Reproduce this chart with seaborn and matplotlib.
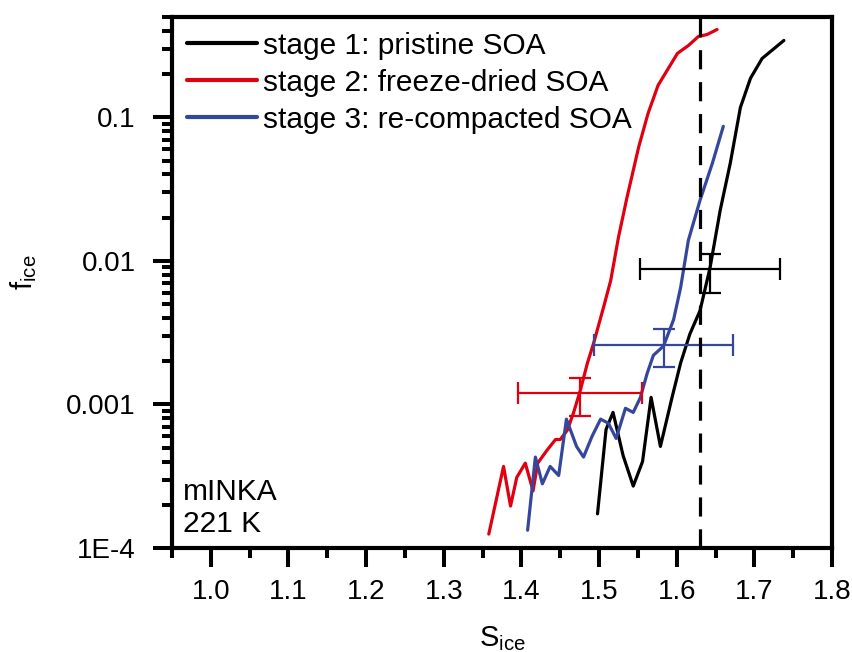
import numpy as np
import pandas as pd
import matplotlib
matplotlib.use("Agg")
import matplotlib.pyplot as plt
import matplotlib.ticker as mticker
import seaborn as sns

# ── DATA ──────────────────────────────────────────────────────
black_s = [1.498, 1.509, 1.518, 1.531, 1.544, 1.556, 1.567, 1.579, 1.594, 1.605,
           1.617, 1.630, 1.643, 1.656, 1.669, 1.682, 1.695, 1.710, 1.738]
black_f = [1.73e-4, 6.7e-4, 8.8e-4, 4.4e-4, 2.7e-4, 4.0e-4, 1.12e-3, 5.1e-4, 1.12e-3, 1.94e-3,
           3.1e-3, 4.5e-3, 9.0e-3, 0.0225, 0.048, 0.117, 0.187, 0.257, 0.343]

red_s = [1.358, 1.377, 1.386, 1.394, 1.405, 1.415, 1.421, 1.433, 1.444, 1.450,
         1.459, 1.467, 1.476, 1.485, 1.493, 1.506, 1.515, 1.525, 1.536, 1.551,
         1.563, 1.576, 1.601, 1.615, 1.628, 1.639, 1.652]
red_f = [1.25e-4, 3.7e-4, 1.96e-4, 3.1e-4, 3.9e-4, 2.5e-4, 3.9e-4, 4.8e-4, 5.7e-4, 5.7e-4,
         6.6e-4, 8.7e-4, 1.26e-3, 1.94e-3, 2.67e-3, 4.8e-3, 7.3e-3, 0.0146, 0.0277, 0.062,
         0.106, 0.167, 0.279, 0.316, 0.366, 0.377, 0.409]

blue_s = [1.408, 1.418, 1.427, 1.437, 1.448, 1.458, 1.471, 1.480, 1.491, 1.502,
          1.512, 1.522, 1.534, 1.544, 1.553, 1.562, 1.570, 1.583, 1.596, 1.605,
          1.615, 1.630, 1.646, 1.660]
blue_f = [1.33e-4, 4.3e-4, 2.8e-4, 3.7e-4, 3.2e-4, 7.9e-4, 5.1e-4, 4.3e-4, 6.0e-4, 7.9e-4,
          7.4e-4, 5.8e-4, 9.4e-4, 8.8e-4, 1.11e-3, 1.65e-3, 2.2e-3, 2.55e-3, 3.9e-3, 6.5e-3,
          0.0139, 0.0264, 0.048, 0.0865]

stages = ["stage 1: pristine SOA", "stage 2: freeze-dried SOA", "stage 3: re-compacted SOA"]
colors = ["#000000", "#e0000f", "#34479c"]

# error bars: red, blue, black
err_s = [1.475, 1.583, 1.643]
err_f = [1.2e-3, 2.59e-3, 8.75e-3]
err_sx = [0.080, 0.090, 0.090]
err_flo = [8.3e-4, 1.82e-3, 6.0e-3]
err_fhi = [1.52e-3, 3.34e-3, 1.11e-2]
err_colors = ["#e0000f", "#34479c", "#000000"]

s_homog = 1.63

x_ticks = [1.0, 1.1, 1.2, 1.3, 1.4, 1.5, 1.6, 1.7, 1.8]
y_ticks = [1e-4, 1e-3, 1e-2, 1e-1]
y_labels = ["1E-4", "0.001", "0.01", "0.1"]

df = pd.concat([
    pd.DataFrame({"S": black_s, "f": black_f, "stage": stages[0]}),
    pd.DataFrame({"S": red_s, "f": red_f, "stage": stages[1]}),
    pd.DataFrame({"S": blue_s, "f": blue_f, "stage": stages[2]}),
], ignore_index=True)

# ── STYLE ─────────────────────────────────────────────────────
sns.set_style("ticks", {"text.color": "black", "axes.labelcolor": "black",
                        "xtick.color": "black", "ytick.color": "black",
                        "axes.edgecolor": "black"})
plt.rcParams["font.family"] = ["Liberation Sans", "DejaVu Sans"]
plt.rcParams["mathtext.fontset"] = "custom"
plt.rcParams["mathtext.rm"] = "Liberation Sans"

fig = plt.figure(figsize=(8.53, 6.52), dpi=100)
ax = fig.add_axes([0.2016, 0.1595, 0.7738, 0.8145])

sns.lineplot(data=df, x="S", y="f", hue="stage", palette=colors,
             sort=False, estimator=None, linewidth=2.3, ax=ax)

for s, f, sx, lo, hi, c in zip(err_s, err_f, err_sx, err_flo, err_fhi, err_colors):
    ax.errorbar(s, f, xerr=sx, yerr=[[f - lo], [hi - f]], fmt="none",
                ecolor=c, elinewidth=1.6, capsize=8, capthick=1.6)

ax.axvline(s_homog, color="black", lw=2.3, ls=(0, (6, 4)))

ax.set_yscale("log")
ax.set_xlim(0.95, 1.8)
ax.set_ylim(1e-4, 0.5)

ax.xaxis.set_major_locator(mticker.FixedLocator(x_ticks))
ax.xaxis.set_minor_locator(mticker.MultipleLocator(0.05))
ax.xaxis.set_major_formatter(mticker.FormatStrFormatter("%.1f"))
ax.yaxis.set_major_locator(mticker.FixedLocator(y_ticks))
ax.yaxis.set_major_formatter(mticker.FixedFormatter(y_labels))
ax.yaxis.set_minor_locator(mticker.LogLocator(base=10, subs=np.arange(2, 10)))
ax.yaxis.set_minor_formatter(mticker.NullFormatter())

ax.tick_params(which="major", direction="out", length=14, width=2.9,
               labelsize=20, color="black", labelcolor="black")
ax.tick_params(axis="x", which="major", pad=8)
ax.tick_params(axis="y", which="major", pad=12)
ax.tick_params(which="minor", direction="out", length=7, width=2.9, color="black")
ax.tick_params(top=False, right=False, which="both")

for sp in ax.spines.values():
    sp.set_linewidth(3.0)
    sp.set_color("black")
    sp.set_visible(True)

ax.set_xlabel(r"$\mathregular{S_{ice}}$", fontsize=21, labelpad=14)
ax.set_ylabel(r"$\mathregular{f_{ice}}$", fontsize=21)
ax.yaxis.set_label_coords(-0.202, 0.52)

ax.text(0.016, 0.018, "mINKA\n221 K", transform=ax.transAxes,
        fontsize=21.5, ha="left", va="bottom", linespacing=1.2)

leg = ax.legend(loc="upper left", frameon=False, fontsize=21.5, handlelength=2.35,
                handletextpad=0.2, labelspacing=0.3, borderpad=0.3, borderaxespad=0.2)
for line in leg.get_lines():
    line.set_linewidth(3.0)

fig.savefig("out.png", dpi=100)
